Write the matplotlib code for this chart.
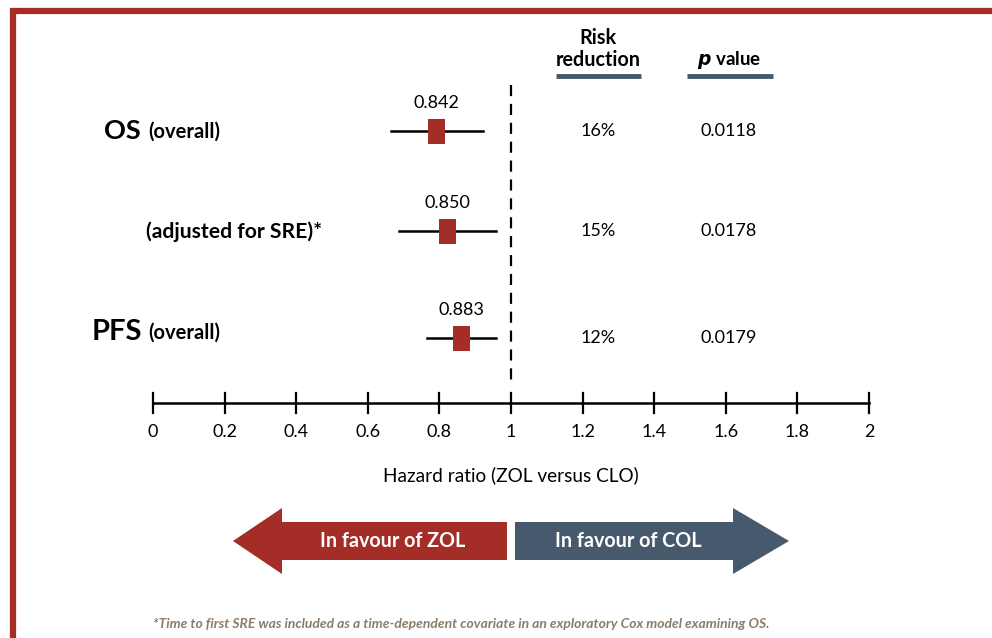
import matplotlib.pyplot as plt
from matplotlib.patches import Rectangle, Polygon

plt.rcParams['font.family'] = ['Lato', 'DejaVu Sans']

# forest plot data (positions as drawn in the figure)
rows = ['OS', 'adjusted', 'PFS']
hr_text = ['0.842', '0.850', '0.883']
hr_pos = [0.792, 0.822, 0.861]
ci_low = [0.664, 0.687, 0.766]
ci_high = [0.921, 0.958, 0.958]
risk_reduction = ['16%', '15%', '12%']
p_values = ['0.0118', '0.0178', '0.0179']
ticks = [0, 0.2, 0.4, 0.6, 0.8, 1, 1.2, 1.4, 1.6, 1.8, 2]
tick_labels = ['0', '0.2', '0.4', '0.6', '0.8', '1', '1.2', '1.4', '1.6', '1.8', '2']

RED = '#a52d27'
BLUE = '#475a6d'

W, H = 992, 638
fig = plt.figure(figsize=(W / 100, H / 100), dpi=100)

# layout axes in pixel units
lay = fig.add_axes([0, 0, 1, 1])
lay.set_xlim(0, W)
lay.set_ylim(H, 0)
lay.axis('off')

# forest axes: HR units horizontally, pixel rows vertically
x0, x2 = 153, 869
scale = (x2 - x0) / 2
ax = fig.add_axes([0, 0, 1, 1])
ax.set_xlim(-x0 / scale, (W - x0) / scale)
ax.set_ylim(H, 0)
ax.axis('off')
ax.patch.set_alpha(0)

# border
lay.plot([13, 13, W + 5], [H + 5, 10.5, 10.5], color=RED, lw=4.5,
         solid_joinstyle='miter', clip_on=False)

row_y = [131, 231, 338]

# reference line
ax.plot([1, 1], [85, 382], color='black', lw=1.6, dashes=(5, 3.5))

for i in range(len(rows)):
    y = row_y[i]
    ax.plot([ci_low[i], ci_high[i]], [y, y], color='black', lw=1.8)
    w = 17 / scale
    ax.add_patch(Rectangle((hr_pos[i] - w / 2, y - 12.5), w, 25,
                           facecolor=RED, edgecolor='none', zorder=3))
    ax.text(hr_pos[i], y - 20, hr_text[i], ha='center', va='bottom',
            fontsize=13)
    lay.text(598, y, risk_reduction[i], ha='center', va='center', fontsize=13)
    lay.text(729, y, p_values[i], ha='center', va='center', fontsize=13)

# row labels
lay.text(141, 131, 'OS', ha='right', va='center', fontsize=19.5,
         fontweight='bold')
lay.text(148, 132, '(overall)', ha='left', va='center', fontsize=14.5,
         fontweight='bold')
lay.text(146, 232, '(adjusted for SRE)*', ha='left', va='center',
         fontsize=15.2, fontweight='bold')
lay.text(142, 332, 'PFS', ha='right', va='center', fontsize=21,
         fontweight='bold')
lay.text(148, 333, '(overall)', ha='left', va='center', fontsize=14.5,
         fontweight='bold')

# column headers
lay.text(598, 49, 'Risk\nreduction', ha='center', va='center', fontsize=14.2,
         fontweight='bold', linespacing=1.12)
lay.text(729, 60, r'$\mathbfit{p}$ value', ha='center', va='center',
         fontsize=13.5, fontweight='bold')
lay.plot([556, 641], [76, 76], color=BLUE, lw=3.5, solid_capstyle='butt')
lay.plot([687, 773], [76, 76], color=BLUE, lw=3.5, solid_capstyle='butt')

# HR axis
ax.plot([0, 2], [403, 403], color='black', lw=1.8)
for t, lab in zip(ticks, tick_labels):
    ax.plot([t, t], [393, 413], color='black', lw=1.6)
    ax.text(t, 432, lab, ha='center', va='center', fontsize=13)
ax.text(1, 475, 'Hazard ratio (ZOL versus CLO)', ha='center', va='center',
        fontsize=13.7)

# favour arrows
lay.add_patch(Polygon([(507, 522), (282, 522), (282, 508), (233, 541),
                       (282, 574), (282, 560), (507, 560)],
                      closed=True, facecolor=RED, edgecolor='none'))
lay.add_patch(Polygon([(515, 522), (733, 522), (733, 508), (789, 541),
                       (733, 574), (733, 560), (515, 560)],
                      closed=True, facecolor=BLUE, edgecolor='none'))
lay.text(393, 541, 'In favour of ZOL', ha='center', va='center',
         fontsize=14.2, fontweight='bold', color='white')
lay.text(628, 541, 'In favour of COL', ha='center', va='center',
         fontsize=14.2, fontweight='bold', color='white')

# footnote
lay.text(461, 624, '*Time to first SRE was included as a time-dependent '
         'covariate in an exploratory Cox model examining OS.',
         ha='center', va='center', fontsize=10, style='italic',
         fontweight='bold', color='#8c7c6c')

fig.savefig('out.png', dpi=100)
